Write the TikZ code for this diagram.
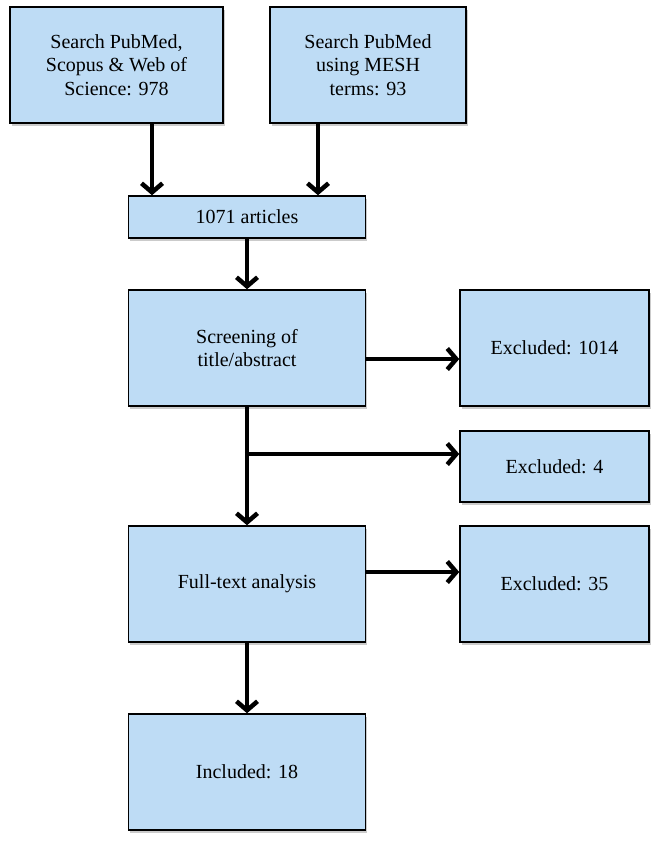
\documentclass[tikz,border=0pt]{standalone}
\usepackage{fontspec}
\setmainfont{Liberation Serif}
\usetikzlibrary{arrows.meta,shadows}
\definecolor{boxblue}{RGB}{190,220,245}

\begin{document}
\begin{tikzpicture}[x=1pt, y=-1pt, >={Straight Barb[length=9pt,width=21pt]},
  box/.style={draw=black, line width=1.5pt, fill=boxblue, inner sep=0pt, align=center,
    font=\fontsize{20}{23.3}\selectfont,
    drop shadow={shadow xshift=1.5pt, shadow yshift=-2.5pt, fill=black!45, opacity=0.45}},
  arr/.style={->, line width=4.5pt}]
  \useasboundingbox (0, 0) rectangle (656, 844);

  \node[box, minimum width=213pt, minimum height=116pt] (search1) at (116.5, 65) {Search PubMed,\\Scopus \& Web of\\Science: 978};
  \node[box, minimum width=196pt, minimum height=116pt] (search2) at (368, 65) {Search PubMed\\using MESH\\terms: 93};
  \node[box, minimum width=237pt, minimum height=42pt] (articles) at (247, 217) {1071 articles};
  \node[box, minimum width=237pt, minimum height=116pt] (screen) at (247, 348) {Screening of\\title/abstract};
  \node[box, minimum width=189pt, minimum height=116pt] (excl1014) at (554.5, 348) {Excluded: 1014};
  \node[box, minimum width=189pt, minimum height=71pt] (excl4) at (554.5, 466.5) {Excluded: 4};
  \node[box, minimum width=237pt, minimum height=116pt] (fulltext) at (247, 584) {Full-text analysis};
  \node[box, minimum width=189pt, minimum height=116pt] (excl35) at (554.5, 584) {Excluded: 35};
  \node[box, minimum width=237pt, minimum height=116pt] (included) at (247, 772) {Included: 18};

  \draw[arr] ([xshift=35.5pt]search1.south) -- ([xshift=-95pt]articles.north);
  \draw[arr] ([xshift=-50pt]search2.south) -- ([xshift=71pt]articles.north);
  \draw[arr] (articles.south) -- (screen.north);
  \draw[arr] ([yshift=-11pt]screen.east) -- ([yshift=-11pt]excl1014.west);

  \coordinate (split) at (247, 454);
  \draw[arr] (screen.south) -- (fulltext.north);
  \draw[arr] ([xshift=-2.25pt]split) -- (split -| excl4.west);

  \draw[arr] ([yshift=12pt]fulltext.east) -- ([yshift=12pt]excl35.west);
  \draw[arr] (fulltext.south) -- (included.north);
\end{tikzpicture}
\end{document}
